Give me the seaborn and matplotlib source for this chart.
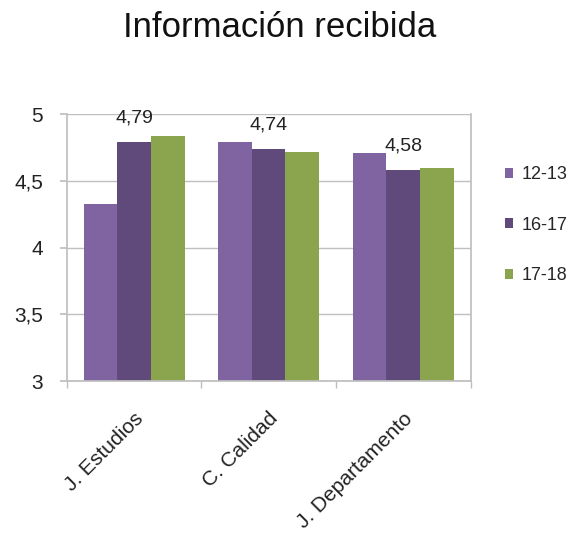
import matplotlib
matplotlib.use('Agg')
import matplotlib.pyplot as plt
import pandas as pd
import seaborn as sns

categories = ["J. Estudios", "C. Calidad", "J. Departamento"]
series = ["12-13", "16-17", "17-18"]
v_1213 = [4.33, 4.79, 4.71]
v_1617 = [4.79, 4.74, 4.58]
v_1718 = [4.84, 4.72, 4.60]
colors = ["#8064A2", "#604A7B", "#8BA54F"]

df = pd.DataFrame({
    "categoria": categories * 3,
    "curso": [s for s in series for _ in categories],
    "valor": v_1213 + v_1617 + v_1718,
})

sns.set_theme(style="white")
plt.rcParams['font.family'] = ['Liberation Sans', 'DejaVu Sans']

fig, ax = plt.subplots(figsize=(5.71, 5.36), dpi=100)
fig.subplots_adjust(left=0.117, right=0.824, top=0.787, bottom=0.289)

sns.barplot(data=df, x="categoria", y="valor", hue="curso", palette=colors,
            width=0.75, saturation=1, linewidth=0, ax=ax)

ax.set_ylim(3, 5)
ax.set_yticks([3, 3.5, 4, 4.5, 5])
ax.set_yticklabels(["3", "3,5", "4", "4,5", "5"], fontsize=15, color="#222222")
ax.yaxis.grid(True, color="#BFBFBF", linewidth=1)
ax.set_axisbelow(True)
ax.set_xlim(-0.5, 2.5)
ax.set_xlabel("")
ax.set_ylabel("")

ax.set_xticks(range(len(categories)))
ax.set_xticklabels(categories, rotation=45, ha="right", rotation_mode="anchor",
                   fontsize=15, color="#222222")
ax.set_xticks([-0.5, 0.5, 1.5, 2.5], minor=True)
ax.tick_params(axis="x", which="major", length=0, pad=20)
ax.tick_params(axis="x", which="minor", length=5, color="#BFBFBF", direction="out",
               bottom=True)
ax.tick_params(axis="y", length=5, color="#BFBFBF", direction="out", left=True, pad=12)

for side in ["left", "right", "bottom"]:
    ax.spines[side].set_color("#BFBFBF")
ax.spines["top"].set_visible(False)

# only the 16-17 series is labelled
ax.bar_label(ax.containers[1], labels=[f"{v:.2f}".replace(".", ",") for v in v_1617],
             padding=11, fontsize=14, color="#222222")

leg = ax.legend(loc="center left", bbox_to_anchor=(1.045, 0.584), frameon=False,
                fontsize=13, handlelength=0.45, handleheight=0.45, handletextpad=0.5,
                labelspacing=1.85)

fig.text(0.49, 0.948, "Información recibida", ha="center", va="center", fontsize=25,
         color="#111111")

fig.savefig("out.png", dpi=100)
